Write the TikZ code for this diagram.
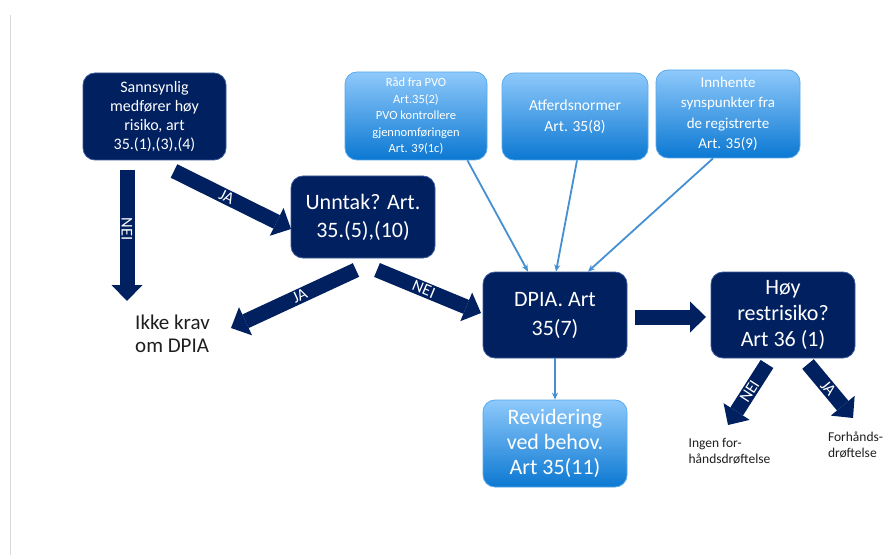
\documentclass[tikz,border=0pt]{standalone}
\usepackage{fontspec}
\setmainfont{Carlito}
\usetikzlibrary{arrows.meta}
\definecolor{navy}{HTML}{002060}
\definecolor{navyedge}{HTML}{3A5A9A}
\definecolor{ltop}{HTML}{8EC9FB}
\definecolor{lbot}{HTML}{0B78D2}
\definecolor{thinblue}{HTML}{4590D2}
\tikzset{
 darkbox/.style={draw=navyedge, line width=0.8pt, fill=navy, rounded corners=12pt, text=white, align=center, inner sep=0pt},
 lightbox/.style={draw=ltop!60!lbot, line width=0.8pt, top color=ltop, bottom color=lbot, rounded corners=12pt, text=white, align=center, inner sep=0pt},
 blockarrow/.style={draw=navy, line width=15pt, -{Triangle[width=31pt,length=16pt,line width=0pt]}},
 arrowlabel/.style={text=white, font=\fontsize{16.5}{16.5}\selectfont, inner sep=0pt, sloped, pos=0.45},
 thinarrow/.style={draw=thinblue, line width=1.8pt, -{Stealth[length=7pt,width=6pt]}},
 plaintext/.style={text=black!88, align=left, inner sep=0pt},
}
\begin{document}
\begin{tikzpicture}[x=1pt,y=-1pt]
\useasboundingbox (0,0) rectangle (888,556);
\fill[white] (0,0) rectangle (888,556);
\draw[black!15, line width=0.8pt] (10,15) -- (10,555);

% boxes
\node[darkbox, minimum width=143pt, minimum height=87pt, font=\fontsize{16}{19}\selectfont] (s1) at (154.5,116.5) {Sannsynlig\\medfører høy\\risiko, art\\35.(1),(3),(4)};
\node[darkbox, minimum width=144pt, minimum height=82pt, font=\fontsize{22}{28}\selectfont] (un) at (363,217) {Unntak? Art.\\35.(5),(10)};
\node[lightbox, minimum width=142pt, minimum height=88pt, font=\fontsize{12.5}{16.5}\selectfont] (rad) at (416,116) {Råd fra PVO\\Art.35(2)\\PVO kontrollere\\gjennomføringen\\Art. 39(1c)};
\node[lightbox, minimum width=146pt, minimum height=87pt, font=\fontsize{15.5}{21}\selectfont] (atf) at (575,116.5) {Atferdsnormer\\Art. 35(8)};
\node[lightbox, minimum width=144pt, minimum height=88pt, font=\fontsize{15}{20.5}\selectfont] (inn) at (728,114) {Innhente\\synspunkter fra\\de registrerte\\Art. 35(9)};
\node[darkbox, minimum width=144pt, minimum height=86pt, font=\fontsize{22}{29}\selectfont] (dpia) at (555,315) {DPIA. Art\\35(7)};
\node[darkbox, minimum width=144pt, minimum height=86pt, font=\fontsize{22}{26}\selectfont] (hoy) at (783,315) {Høy\\restrisiko?\\Art 36 (1)};
\node[lightbox, minimum width=144pt, minimum height=87pt, font=\fontsize{22}{25}\selectfont] (rev) at (555,443.5) {Revidering\\ved behov.\\Art 35(11)};

% plain texts
\node[plaintext, font=\fontsize{21}{23}\selectfont] (ikke) at (172.5,334) {Ikke krav\\om DPIA};
\node[plaintext, font=\fontsize{13.5}{16.5}\selectfont] (ingen) at (729.5,451) {Ingen for-\\håndsdrøftelse};
\node[plaintext, font=\fontsize{13.5}{16.5}\selectfont] (forh) at (855.5,445) {Forhånds-\\drøftelse};

% block arrow ends
\coordinate (a1s) at (127,170);  \coordinate (a1e) at (127,301);
\coordinate (a2s) at (174,171);  \coordinate (a2e) at (291,229);
\coordinate (a3s) at (356,270);  \coordinate (a3e) at (231,328);
\coordinate (a4s) at (377,270);  \coordinate (a4e) at (481,313);
\coordinate (a5s) at (635,317);  \coordinate (a5e) at (706,317);
\coordinate (a6s) at (767,364);  \coordinate (a6e) at (728,425);
\coordinate (a7s) at (808,364);  \coordinate (a7e) at (853,418);

\draw[blockarrow] (a1s) -- (a1e) node[arrowlabel] {NEI};
\draw[blockarrow] (a2s) -- (a2e) node[arrowlabel] {JA};
\draw[blockarrow] (a3s) -- (a3e) node[arrowlabel] {JA};
\draw[blockarrow] (a4s) -- (a4e) node[arrowlabel] {NEI};
\draw[blockarrow] (a5s) -- (a5e);
\draw[blockarrow] (a6s) -- (a6e) node[arrowlabel] {NEI};
\draw[blockarrow] (a7s) -- (a7e) node[arrowlabel] {JA};

% thin connectors
\draw[thinarrow] ([xshift=-20pt]rad.south east) -- ([xshift=-27pt]dpia.north);
\draw[thinarrow] ([xshift=2pt]atf.south) -- ([xshift=1pt]dpia.north);
\draw[thinarrow] ([xshift=-15pt]inn.south) -- ([xshift=33pt]dpia.north);
\draw[thinarrow] (dpia.south) -- (rev.north);
\end{tikzpicture}
\end{document}
